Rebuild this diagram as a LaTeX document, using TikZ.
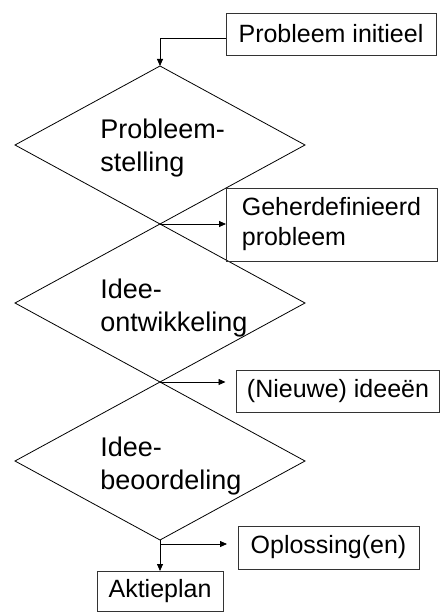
\documentclass[tikz,border=0pt]{standalone}
\usepackage{fontspec}
\setmainfont{Liberation Sans}
\usetikzlibrary{shapes.geometric,arrows.meta}

\begin{document}
\begin{tikzpicture}[x=1pt, y=-1pt, line width=0.8pt,
		ruit/.style={draw,diamond,minimum width=290pt,minimum height=158pt,inner sep=0pt,outer sep=0pt},
		vak/.style={draw=black!80,rectangle,inner sep=0pt,outer sep=0pt,font=\fontsize{25}{30}\selectfont},
		tekst/.style={anchor=west,align=left,inner sep=0pt,font=\fontsize{27}{33}\selectfont},
		pijl/.style={-{Triangle[length=7pt,width=6pt]}}]
		\useasboundingbox (0,0) rectangle (441,612);

		\node[ruit] (d1) at (160,145) {};
		\node[ruit] (d2) at (160,303) {};
		\node[ruit] (d3) at (160,461) {};
		\node[tekst] (t1) at (100,148) {Probleem-\\stelling};
		\node[tekst] (t2) at (100,308) {Idee-\\ontwikkeling};
		\node[tekst] (t3) at (100,466) {Idee-\\beoordeling};

		\node[vak, minimum width=210pt, minimum height=42pt] (b0) at (331,34) {Probleem initieel};
		\node[vak, minimum width=211pt, minimum height=73pt, align=left] (b1) at (331.5,224.5) {Geherdefinieerd\\probleem};
		\node[vak, minimum width=203pt, minimum height=42pt] (b2) at (338,391) {(Nieuwe) ideeën};
		\node[vak, minimum width=181pt, minimum height=43pt] (b3) at (328.5,547.5) {Oplossing(en)};
		\node[vak, minimum width=126pt, minimum height=40pt] (b4) at (160,591) {Aktieplan};

		\coordinate (s0) at ([yshift=-4pt]b0.west);
		\coordinate (s3) at ([yshift=-4pt]d3.south);
		\draw[pijl] (s0) -| (d1.north);
		\draw[pijl] (d1.south) -- (b1.west |- d1.south);
		\draw[pijl, shorten >=11pt] (d2.south) -- (b2.west |- d2.south);
		\draw[pijl] (d3.south) -- (b4.north);
		\draw[pijl, shorten >=11pt] (s3) -- (b3.west |- s3);
	\end{tikzpicture}
\end{document}
